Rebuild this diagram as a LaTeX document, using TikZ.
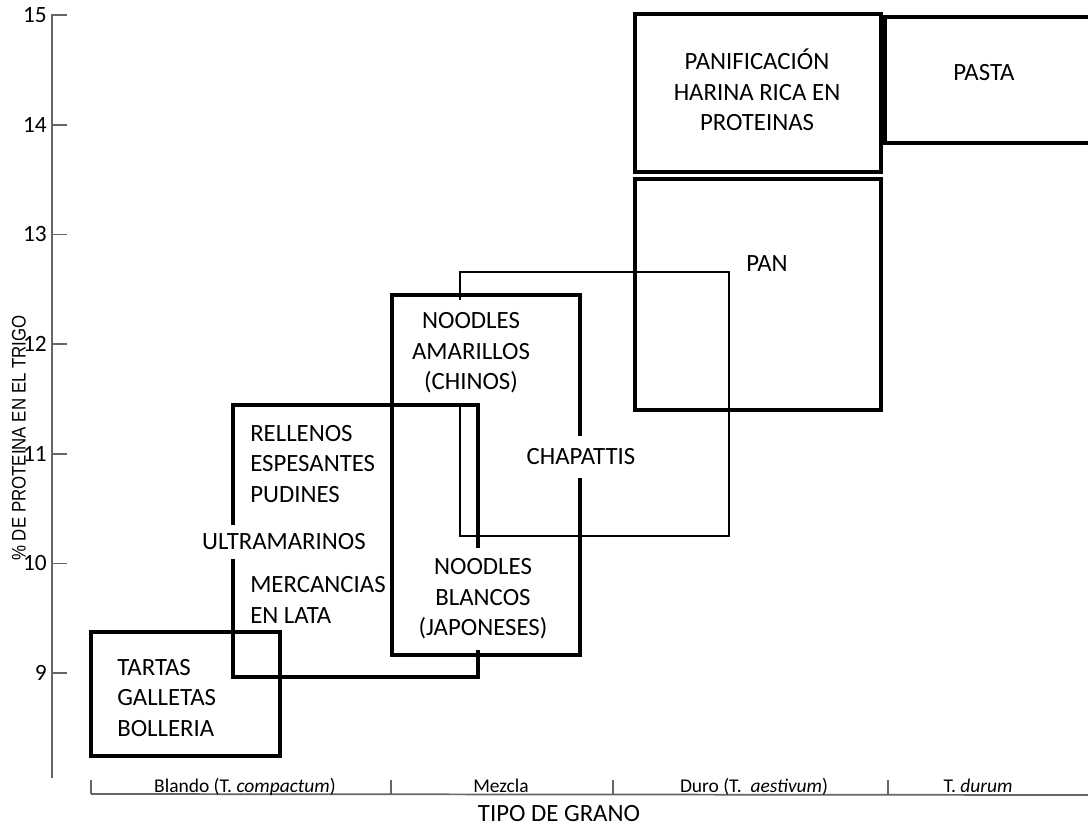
\documentclass[tikz,border=0pt]{standalone}
\usepackage{fontspec}
\setmainfont{Carlito}
\newfontfamily\axisfont[FakeStretch=0.86]{Liberation Sans}
\usetikzlibrary{positioning}

\begin{document}
\begin{tikzpicture}[
  x=0.75pt, y=-0.75pt,
  zone/.style={draw=black, line width=2.3pt},
  thinzone/.style={draw=black, line width=1.8pt},
  axis/.style={draw=black!60, line width=1.3pt},
  lbl/.style={font=\fontsize{18.6}{22.8}\selectfont, inner sep=0pt},
  cover/.style={lbl, fill=white, inner xsep=3pt},
  ticklbl/.style={font=\fontsize{17.5}{20}\selectfont, anchor=east, inner sep=0pt},
  catlbl/.style={font=\fontsize{14.6}{17}\selectfont, anchor=base, inner sep=0pt}
]
\useasboundingbox (0,0) rectangle (1088,827);

% Axes
\draw[axis] (52,14) -- (52,778);
\foreach \v in {9,...,15} {
  \draw[axis] (52,{15+(15-\v)*109.7}) -- ++(15,0);
  \node[ticklbl] (tick\v) at (47,{15+(15-\v)*109.7}) {\v};
}
\node[font=\axisfont\fontsize{14.7}{17}\selectfont, rotate=90, inner sep=0pt] (ylabel) at (19,438) {\% DE PROTEINA EN EL TRIGO};

\draw[axis] (91,794) -- (1088,795);
\foreach \x in {91,391,613,888}
  \draw[axis] (\x,780) -- (\x,794);
\node[catlbl] (blando) at (245,792) {Blando (T. \textit{compactum})};
\node[catlbl] (mezcla) at (501,792) {Mezcla};
\node[catlbl] (duro) at (754,792) {Duro (T.\ \ \textit{aestivum})};
\node[catlbl] (durum) at (978,792) {T. \textit{durum}};
\node[lbl, anchor=base] (xlabel) at (559,821) {TIPO DE GRANO};

% Upper boxes
\draw[thinzone] (460,272) rectangle (729,536);
\draw[zone] (635,179) rectangle (881,410);
\draw[zone] (635,14) rectangle (881,172);
\draw[zone] (885,17) rectangle (1100,143);

\node[cover, inner ysep=10pt, align=center] (amarillos) at (471,353) {NOODLES\\AMARILLOS\\(CHINOS)};

% Lower boxes
\draw[zone] (392,295) rectangle (580,655);
\draw[zone] (233,405) rectangle (478,677);
\draw[zone] (91,632) rectangle (280,756);

% Labels
\node[cover, inner ysep=10pt] (chapattis) at (581,457) {CHAPATTIS};
\node[cover, inner ysep=8pt, align=center] (blancos) at (483,599) {NOODLES\\BLANCOS\\(JAPONESES)};
\node[cover, inner ysep=6.5pt] (ultramarinos) at (284,542) {ULTRAMARINOS};

\node[lbl, align=center] (panif) at (757,90) {PANIFICACIÓN\\HARINA RICA EN\\PROTEINAS};
\node[lbl] (pasta) at (984,73) {PASTA};
\node[lbl] (pan) at (767,264) {PAN};
\node[lbl, anchor=west, align=left] (rellenos) at (250,464) {RELLENOS\\ESPESANTES\\PUDINES};
\node[lbl, anchor=west, align=left] (mercancias) at (250,600) {MERCANCIAS\\EN LATA};
\node[lbl, anchor=west, align=left] (tartas) at (117,698) {TARTAS\\GALLETAS\\BOLLERIA};
\end{tikzpicture}
\end{document}
